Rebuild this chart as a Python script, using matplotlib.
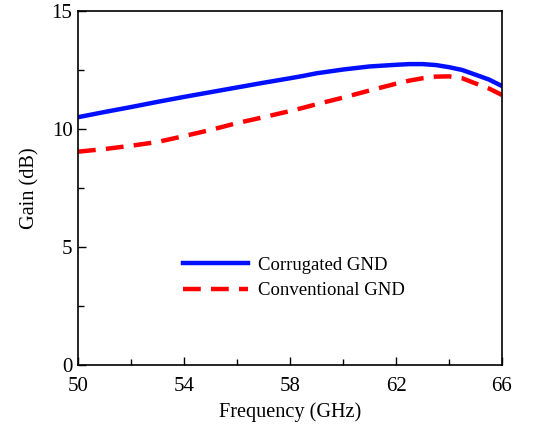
import matplotlib
matplotlib.use("Agg")
import matplotlib.pyplot as plt
from matplotlib.ticker import MultipleLocator

plt.rcParams['font.family'] = ['Liberation Serif', 'DejaVu Serif']
plt.rcParams['mathtext.fontset'] = 'stix'

# frequency points (GHz)
freq = [50, 51, 52, 53, 54, 55, 56, 57, 58, 58.5, 59, 60, 61, 62, 62.5,
        63, 63.5, 64, 64.5, 65, 65.5, 66]

# gain (dB)
gain_corrugated = [10.5, 10.72, 10.93, 11.15, 11.36, 11.56, 11.76, 11.96, 12.15,
                   12.25, 12.36, 12.52, 12.65, 12.72, 12.75, 12.75, 12.71,
                   12.62, 12.5, 12.3, 12.1, 11.82]
gain_conventional = [9.04, 9.15, 9.29, 9.45, 9.7, 9.96, 10.25, 10.5, 10.76,
                     10.9, 11.05, 11.33, 11.63, 11.92, 12.05, 12.15, 12.22,
                     12.23, 12.15, 11.93, 11.72, 11.44]

x_ticks = [50, 54, 58, 62, 66]
x_minor = [52, 56, 60, 64]

fig = plt.figure(figsize=(5.46, 4.28), dpi=100)
ax = fig.add_axes([0.1429, 0.1472, 0.7765, 0.8271])

ax.plot(freq, gain_corrugated, color='#0010ff', lw=3.2, label='Corrugated GND')
ax.plot(freq, gain_conventional, color='#ff0000', lw=3.2, dashes=(4.0, 2.3),
        label='Conventional GND')

ax.set_xlim(50, 66)
ax.set_ylim(0, 15)
ax.set_xticks(x_ticks)
ax.set_xticks(x_minor, minor=True)
ax.yaxis.set_major_locator(MultipleLocator(5))
ax.yaxis.set_minor_locator(MultipleLocator(2.5))
ax.tick_params(which='both', direction='in', top=False, right=False,
               labelsize=15, width=1.0)
ax.tick_params(axis='x', pad=9)
ax.tick_params(axis='y', pad=4)
ax.tick_params(which='major', length=6)
ax.tick_params(which='minor', length=4)
for s in ax.spines.values():
    s.set_linewidth(1.2)

ax.set_xlabel('Frequency (GHz)', fontsize=14.6, labelpad=4)
ax.set_ylabel('Gain (dB)', fontsize=14.6, labelpad=9)

ax.legend(loc='upper left', bbox_to_anchor=(0.208, 0.354), frameon=False,
          fontsize=13.5, handlelength=3.47, handletextpad=0.55, labelspacing=0.45)

fig.savefig('out.png', dpi=100)
